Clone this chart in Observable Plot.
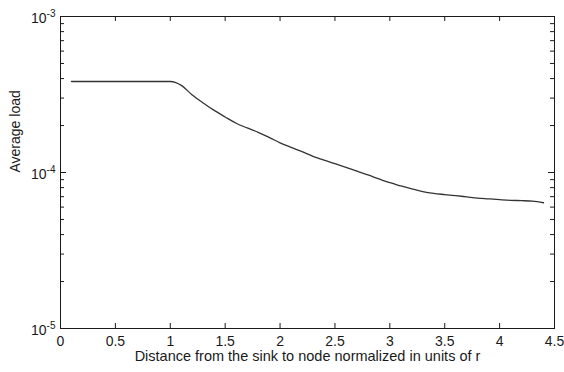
<!DOCTYPE html>
<html>
<head>
<meta charset="utf-8">
<script src="https://cdn.jsdelivr.net/npm/d3@7"></script>
<script src="https://cdn.jsdelivr.net/npm/@observablehq/plot@0.6"></script>
<style>
  html, body { margin: 0; padding: 0; background: #fff; }
  svg { font-family: "Liberation Sans", Arial, sans-serif; }
</style>
</head>
<body>
<div id="chart"></div>
<script>
const distance = [0.1, 0.2, 0.3, 0.4, 0.5, 0.6, 0.7, 0.8, 0.9, 1.0, 1.05, 1.1, 1.2, 1.3, 1.4, 1.5, 1.6, 1.7, 1.8, 1.9, 2.0,
  2.1, 2.2, 2.3, 2.4, 2.5, 2.6, 2.7, 2.8, 2.9, 3.0, 3.1, 3.2, 3.3, 3.4, 3.5, 3.6, 3.7, 3.8, 3.9, 4.0, 4.1, 4.2, 4.3, 4.4];
const avgLoad = [3.83e-4, 3.83e-4, 3.83e-4, 3.83e-4, 3.83e-4, 3.83e-4, 3.83e-4, 3.83e-4, 3.83e-4, 3.83e-4,
  3.77e-4, 3.62e-4, 3.14e-4, 2.79e-4, 2.50e-4, 2.27e-4, 2.07e-4, 1.93e-4, 1.81e-4, 1.68e-4, 1.55e-4,
  1.45e-4, 1.36e-4, 1.27e-4, 1.20e-4, 1.14e-4, 1.08e-4, 1.02e-4, 9.65e-5, 9.1e-5, 8.6e-5,
  8.2e-5, 7.85e-5, 7.55e-5, 7.35e-5, 7.22e-5, 7.1e-5, 6.98e-5, 6.86e-5, 6.78e-5, 6.7e-5,
  6.63e-5, 6.6e-5, 6.55e-5, 6.4e-5];
const xTicks = [0, 0.5, 1, 1.5, 2, 2.5, 3, 3.5, 4, 4.5];
const yMajorTicks = [1e-5, 1e-4, 1e-3];
const yMinorTicks = [2e-5, 3e-5, 4e-5, 5e-5, 6e-5, 7e-5, 8e-5, 9e-5, 2e-4, 3e-4, 4e-4, 5e-4, 6e-4, 7e-4, 8e-4, 9e-4];
const xLabel = "Distance from the sink to node normalized in units of r";
const yLabel = "Average load";

const W = 564, H = 372;
const mL = 60, mR = 10, mT = 16, mB = 44;
const fw = W - mL - mR, fh = H - mT - mB;
const ink = "#1a1a1a";

const data = distance.map((x, i) => ({x, y: avgLoad[i]}));

const chart = Plot.plot({
  width: W, height: H,
  marginLeft: mL, marginRight: mR, marginTop: mT, marginBottom: mB,
  style: {fontFamily: "Liberation Sans, Arial, sans-serif", fontSize: "14px", color: ink, background: "#fff"},
  x: {domain: [0, 4.5]},
  y: {type: "log", domain: [1e-5, 1e-3]},
  marks: [
    Plot.axisX({ticks: xTicks, tickSize: 0, tickPadding: 8, tickFormat: d => String(d), label: null, fontSize: 14}),
    Plot.axisY({ticks: yMajorTicks, tickSize: 0, tickPadding: 5, tickFormat: d => String(Math.round(Math.log10(d))), label: null, fontSize: 14, dy: 2}),
    // inward ticks: bottom & top
    Plot.tickX(xTicks, {x: d => d, insetTop: fh - 5, stroke: ink}),
    Plot.tickX(xTicks, {x: d => d, insetBottom: fh - 5, stroke: ink}),
    // inward ticks: left & right, major
    Plot.tickY(yMajorTicks, {y: d => d, insetRight: fw - 6, stroke: ink}),
    Plot.tickY(yMajorTicks, {y: d => d, insetLeft: fw - 6, stroke: ink}),
    // minor
    Plot.tickY(yMinorTicks, {y: d => d, insetRight: fw - 4, stroke: ink}),
    Plot.tickY(yMinorTicks, {y: d => d, insetLeft: fw - 4, stroke: ink}),
    Plot.line(data, {x: "x", y: "y", stroke: "#333", strokeWidth: 1.3, curve: "monotone-x"}),
    Plot.frame({stroke: ink, strokeWidth: 1}),
    Plot.text([xLabel], {text: d => d, frameAnchor: "bottom", dy: 32.5, fontSize: 14.5, fill: ink}),
    Plot.text([yLabel], {text: d => d, frameAnchor: "left", dx: -45, rotate: -90, fontSize: 14, fill: ink})
  ]
});

// render y tick labels as 10 with superscript exponent
d3.select(chart).selectAll('g[aria-label="y-axis tick label"] text').each(function() {
  const t = d3.select(this);
  const exp = t.text().replace("\u2212", "-");
  t.text("10");
  t.append("tspan").attr("dy", "-0.55em").attr("font-size", "10px").text(exp);
});

document.getElementById("chart").appendChild(chart);
</script>
</body>
</html>
